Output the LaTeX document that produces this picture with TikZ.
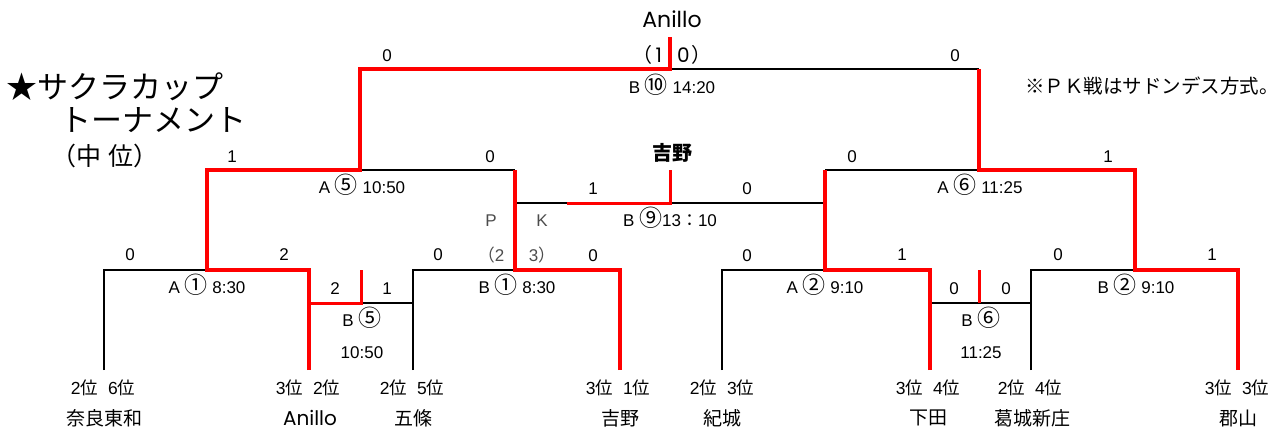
\documentclass[tikz,border=0pt]{standalone}
\usepackage{fontspec}
\setmainfont{Liberation Sans}
\newfontfamily\jp{Noto Sans CJK JP}
\newfontfamily\geo{Poppins}
\newcommand{\cn}[1]{{\jp\fontsize{23}{17}\selectfont #1}}
\newcommand{\rkl}[2]{#1{\jp 位}\hspace{10pt}#2{\jp 位}}
\begin{document}
\begin{tikzpicture}[x=1pt,y=-1pt,
  every node/.style={inner sep=0pt,outer sep=0pt},
  sc/.style={anchor=base,font=\fontsize{17}{17}\selectfont},
  mt/.style={anchor=base,font=\fontsize{17}{17}\selectfont},
  pk/.style={anchor=base,font=\fontsize{17}{17}\selectfont,text=black!70},
  rk/.style={anchor=base,font=\fontsize{17.5}{17}\selectfont},
  tm/.style={anchor=center,font=\jp\fontsize{19}{19}\selectfont},
  ttl/.style={anchor=west,font=\jp\fontsize{31}{31}\selectfont},
  blk/.style={draw=black,line width=2pt,line join=miter},
  thin/.style={draw=black,line width=1.3pt},
  win/.style={draw=red,line width=4.5pt,line join=miter},
  winthin/.style={draw=red,line width=3pt,line join=miter}]
\useasboundingbox (0,0) rectangle (1282,434);
% coordinates
\coordinate (L1) at (104,370); \coordinate (L1t) at (104,270);
\coordinate (L2) at (309,370); \coordinate (L2t) at (309,270);
\coordinate (L3) at (413,370); \coordinate (L3t) at (413,270);
\coordinate (L4) at (620,370); \coordinate (L4t) at (620,270);
\coordinate (L5) at (722,370); \coordinate (L5t) at (722,270);
\coordinate (L6) at (930,370); \coordinate (L6t) at (930,270);
\coordinate (L7) at (1031,370); \coordinate (L7t) at (1031,270);
\coordinate (L8) at (1238,370); \coordinate (L8t) at (1238,270);
\coordinate (m1) at (207,270); \coordinate (m1u) at (207,170);
\coordinate (m2) at (515,270); \coordinate (m2u) at (515,170);
\coordinate (m3) at (825,270); \coordinate (m3u) at (825,170);
\coordinate (m4) at (1135,270); \coordinate (m4u) at (1135,170);
\coordinate (b5l) at (309,303); \coordinate (b5m) at (361,303); \coordinate (b5t) at (361,270); \coordinate (b5r) at (413,303);
\coordinate (b6l) at (930,303); \coordinate (b6m) at (979,303); \coordinate (b6t) at (979,270); \coordinate (b6r) at (1031,303);
\coordinate (a5) at (360,170); \coordinate (a5u) at (360,69);
\coordinate (a6) at (979,170); \coordinate (a6u) at (979,69);
\coordinate (b9l) at (515,203); \coordinate (b9a) at (567,203); \coordinate (b9m) at (670,203); \coordinate (b9t) at (670,170); \coordinate (b9r) at (825,203);
\coordinate (fin) at (670,69); \coordinate (fint) at (670,37);
% black lines
\draw[blk] (L1) -- (L1t) -- (m1);
\draw[blk] (L3) -- (L3t) -- (m2);
\draw[blk] (L5) -- (L5t) -- (m3);
\draw[blk] (L7) -- (L7t) -- (m4);
\draw[blk] (a5) -- (m2u);
\draw[blk] (m3u) -- (a6);
\draw[blk] (fin) -- (a6u);
\draw[thin] (b9l) -- (b9a);
\draw[blk] (b9m) -- (b9r);
\draw[thin] (b5m) -- (b5r);
\draw[thin] (b6l) -- (b6r);
% red winner lines
\draw[win] (L2) -- (L2t) -- (m1) -- (m1u) -- (a5) -- (a5u) -- (fin) -- (fint);
\draw[win] (L4) -- (L4t) -- (m2) -- (m2u);
\draw[win] (L6) -- (L6t) -- (m3) -- (m3u);
\draw[win] (L8) -- (L8t) -- (m4) -- (m4u) -- (a6) -- (a6u);
\draw[winthin] (b9a) -- (b9m) -- (b9t);
\draw[winthin] (b5t) -- (b5m) -- (b5l);
\draw[winthin] (b6t) -- (b6m);
% title and note
\node[ttl] (title1) at (6,87) {★サクラカップ};
\node[ttl] (title2) at (60,120) {トーナメント};
\node[ttl,font=\jp\fontsize{25}{25}\selectfont] (title3) at (51,156) {（中\hspace{7pt}位）};
\node[anchor=center,font=\jp\fontsize{19.5}{19.5}\selectfont] (note) at (1152,86) {※ＰＫ戦はサドンデス方式。};
% final
\node[anchor=base,font=\geo\fontsize{22}{22}\selectfont] (champ) at (672,27) {Anillo};
\node[anchor=base east,font=\geo\fontsize{20}{20}\selectfont] (fsl) at (662,62) {{\jp （}\hspace{3pt}1};
\node[anchor=base west,font=\geo\fontsize{20}{20}\selectfont] (fsr) at (677,62) {0\hspace{2pt}{\jp ）}};
\node[sc] (s01) at (387,61) {0};
\node[sc] (s02) at (955,61) {0};
\node[mt] (m10) at (672,93) {B \cn{⑩} 14:20};
% level 2
\node[sc] (s11) at (232,162) {1};
\node[sc] (s12) at (490,162) {0};
\node[anchor=center,font=\jp\bfseries\fontsize{20}{20}\selectfont] (semiw) at (672,153) {吉野};
\node[sc] (s13) at (852,162) {0};
\node[sc] (s14) at (1108,162) {1};
\node[mt] (ma5) at (362,193) {A \cn{⑤} 10:50};
\node[mt] (ma6) at (980,193) {A \cn{⑥} 11:25};
\node[sc] (s21) at (593,194) {1};
\node[sc] (s22) at (747,194) {0};
\node[pk] (pkP) at (491,226) {P};
\node[pk] (pkK) at (542,226) {K};
\node[mt] (mb9) at (670,226) {B \cn{⑨}13{\jp ：}10};
\node[pk] (pk2) at (491,261) {{\jp （}2};
\node[pk] (pk3) at (542,261) {3{\jp ）}};
\node[sc] (s31) at (593,261) {0};
\node[sc] (s32) at (747,261) {0};
% level 1
\node[sc] (s41) at (130,260) {0};
\node[sc] (s42) at (284,260) {2};
\node[sc] (s43) at (438,260) {0};
\node[sc] (s44) at (902,260) {1};
\node[sc] (s45) at (1058,260) {0};
\node[sc] (s46) at (1212,260) {1};
\node[mt] (ma1) at (207,293) {A \cn{①} 8:30};
\node[mt] (mb1) at (517,293) {B \cn{①} 8:30};
\node[mt] (ma2) at (825,293) {A \cn{②} 9:10};
\node[mt] (mb2) at (1136,293) {B \cn{②} 9:10};
\node[sc] (s51) at (335,294) {2};
\node[sc] (s52) at (387,294) {1};
\node[sc] (s53) at (954,294) {0};
\node[sc] (s54) at (1006,294) {0};
\node[mt] (mb5) at (362,326) {B \cn{⑤}};
\node[mt] (mb5t) at (362,358) {10:50};
\node[mt] (mb6) at (981,326) {B \cn{⑥}};
\node[mt] (mb6t) at (981,358) {11:25};
% ranks
\node[rk] (r1) at (103,394) {\rkl{2}{6}};
\node[rk] (r2) at (308,394) {\rkl{3}{2}};
\node[rk] (r3) at (412,394) {\rkl{2}{5}};
\node[rk] (r4) at (618,394) {\rkl{3}{1}};
\node[rk] (r5) at (722,394) {\rkl{2}{3}};
\node[rk] (r6) at (928,394) {\rkl{3}{4}};
\node[rk] (r7) at (1030,394) {\rkl{2}{4}};
\node[rk] (r8) at (1237,394) {\rkl{3}{3}};
% teams
\node[tm] (t1) at (104,418) {奈良東和};
\node[tm,font=\geo\fontsize{20}{20}\selectfont] (t2) at (310,418) {Anillo};
\node[tm] (t3) at (413,418) {五條};
\node[tm] (t4) at (620,418) {吉野};
\node[tm] (t5) at (722,418) {紀城};
\node[tm] (t6) at (928,418) {下田};
\node[tm] (t7) at (1032,418) {葛城新庄};
\node[tm] (t8) at (1238,418) {郡山};
\end{tikzpicture}
\end{document}
